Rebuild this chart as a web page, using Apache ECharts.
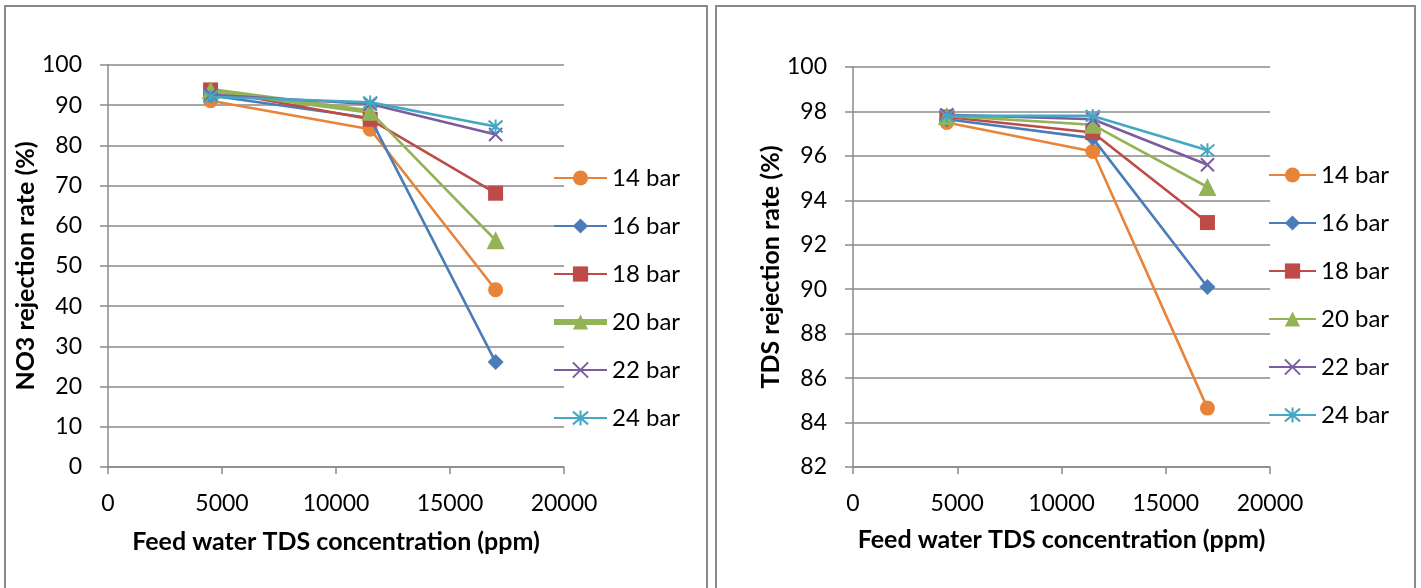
<!DOCTYPE html>
<html>
<head>
<meta charset="utf-8">
<title>NO3 and TDS rejection vs feed water TDS</title>
<script src="https://cdn.jsdelivr.net/npm/echarts@6/dist/echarts.min.js"></script>
<style>
  html, body { margin: 0; padding: 0; background: #ffffff; }
  #chart { width: 1421px; height: 588px; }
</style>
</head>
<body>
<div id="chart"></div>
<script>
// Feed water TDS concentration (ppm) for each test run
const feedTDS = [4500, 11500, 17000];

// Operating pressures
const pressures = ['14 bar', '16 bar', '18 bar', '20 bar', '22 bar', '24 bar'];

// NO3 rejection rate (%) per pressure
const no3_14 = [91.1, 84.0, 44.1];
const no3_16 = [92.4, 86.8, 26.1];
const no3_18 = [93.8, 86.5, 68.1];
const no3_20 = [93.7, 88.4, 56.4];
const no3_22 = [92.6, 90.3, 82.7];
const no3_24 = [92.1, 90.7, 84.7];

// TDS rejection rate (%) per pressure
const tds_14 = [97.5, 96.2, 84.65];
const tds_16 = [97.65, 96.8, 90.1];
const tds_18 = [97.75, 97.05, 93.0];
const tds_20 = [97.8, 97.4, 94.6];
const tds_22 = [97.85, 97.65, 95.6];
const tds_24 = [97.8, 97.8, 96.25];

// Axis tick settings
const xTicks = { min: 0, max: 20000, interval: 5000 };
const no3Ticks = { min: 0, max: 100, interval: 10 };
const tdsTicks = { min: 82, max: 100, interval: 2 };

const no3Sets = [no3_14, no3_16, no3_18, no3_20, no3_22, no3_24];
const tdsSets = [tds_14, tds_16, tds_18, tds_20, tds_22, tds_24];

const colors = ['#E8843A', '#4A7DB8', '#BE4B48', '#93B356', '#7B5C9E', '#46A7C2'];
const CROSS = 'path://M0 0L10 10M10 0L0 10';
const STAR = 'path://M5 0L5 10M0.8 0.8L9.2 9.2M9.2 0.8L0.8 9.2';
const symbols = ['circle', 'diamond', 'rect', 'triangle', CROSS, STAR];
const symbolSizes = [15, 16, 15, 18, 13, 14];

const FONT = 'Lato, "Liberation Sans", sans-serif';
const GRAY = '#8A8A8A';

function pairs(xs, ys) { return xs.map((x, i) => [x, ys[i]]); }

function makeSeries(sets, axisIndex) {
  return sets.map((vals, i) => {
    const stroked = i >= 4;
    return {
      name: pressures[i],
      type: 'line',
      xAxisIndex: axisIndex,
      yAxisIndex: axisIndex,
      data: pairs(feedTDS, vals),
      symbol: symbols[i],
      symbolSize: symbolSizes[i],
      lineStyle: { color: colors[i], width: 2.6 },
      itemStyle: stroked
        ? { color: colors[i], borderColor: colors[i], borderWidth: 2 }
        : { color: colors[i], borderWidth: 0 },
      emphasis: { disabled: true },
      z: 3 + i
    };
  });
}

function xAxis(gridIndex, gap) {
  return {
    type: 'value', gridIndex,
    min: xTicks.min, max: xTicks.max, interval: xTicks.interval,
    name: 'Feed water TDS concentration (ppm)',
    nameLocation: 'middle', nameGap: gap,
    nameTextStyle: { fontFamily: FONT, fontSize: 25, fontWeight: 'bold', color: '#000' },
    axisLine: { show: true, lineStyle: { color: GRAY, width: 1.5 } },
    axisTick: { show: true, length: 7, lineStyle: { color: GRAY, width: 1.5 } },
    axisLabel: { fontFamily: FONT, fontSize: 23, color: '#000', margin: 25,
                 formatter: (v) => String(v) },
    splitLine: { show: false }
  };
}

function yAxis(gridIndex, ticks, name, gap) {
  return {
    type: 'value', gridIndex,
    min: ticks.min, max: ticks.max, interval: ticks.interval,
    name, nameLocation: 'middle', nameGap: gap,
    nameTextStyle: { fontFamily: FONT, fontSize: 25, fontWeight: 'bold', color: '#000' },
    axisLine: { show: true, lineStyle: { color: GRAY, width: 1.5 } },
    axisTick: { show: true, length: 8, lineStyle: { color: GRAY, width: 1.5 } },
    axisLabel: { fontFamily: FONT, fontSize: 23, color: '#000', margin: 26 },
    splitLine: { show: true, lineStyle: { color: GRAY, width: 1.5 } }
  };
}

function legend(left, top, width, thick20) {
  return {
    orient: 'vertical', left, top, padding: 0,
    itemWidth: width, itemHeight: 19, itemGap: 24,
    textStyle: { fontFamily: FONT, fontSize: 24, color: '#000' },
    selectedMode: false,
    data: pressures.map((p, i) =>
      (thick20 && i === 3) ? { name: p, lineStyle: { width: 6 } } : { name: p })
  };
}

const leftSeries = makeSeries(no3Sets, 0);
// The 20 bar run is drawn with a heavier stroke between the first two feeds
leftSeries.splice(3, 0, {
  name: '20 bar heavy stroke',
  type: 'line', xAxisIndex: 0, yAxisIndex: 0,
  data: pairs(feedTDS.slice(0, 2), no3_20.slice(0, 2)),
  symbol: 'none',
  lineStyle: { color: colors[3], width: 5 },
  emphasis: { disabled: true },
  z: 5
});

const option = {
  animation: false,
  backgroundColor: '#ffffff',
  graphic: [
    { type: 'rect', shape: { x: 5, y: 6, width: 702, height: 600 },
      style: { fill: 'none', stroke: GRAY, lineWidth: 2 }, silent: true },
    { type: 'rect', shape: { x: 716, y: 6, width: 699, height: 600 },
      style: { fill: 'none', stroke: GRAY, lineWidth: 2 }, silent: true }
  ],
  grid: [
    { left: 108, top: 65, width: 456, height: 402 },
    { left: 853, top: 67, width: 417, height: 400 }
  ],
  xAxis: [xAxis(0, 62), xAxis(1, 60)],
  yAxis: [
    yAxis(0, no3Ticks, 'NO3 rejection rate (%)', 62),
    yAxis(1, tdsTicks, 'TDS rejection rate (%)', 62)
  ],
  legend: [legend(551, 166, 53, true), legend(1268, 163, 47, false)],
  series: leftSeries.concat(makeSeries(tdsSets, 1))
};

const chart = echarts.init(document.getElementById('chart'), null, { renderer: 'canvas' });
chart.setOption(option);
</script>
</body>
</html>
